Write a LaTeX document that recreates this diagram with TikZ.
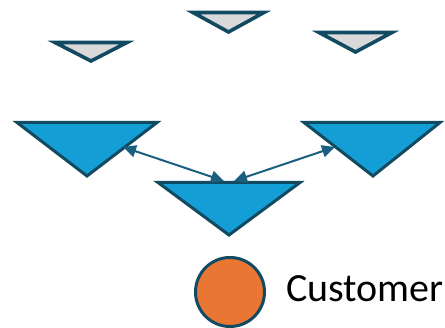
\documentclass[tikz,border=0pt]{standalone}
\usepackage{fontspec}
\setmainfont{Carlito}
\usetikzlibrary{arrows.meta}
\definecolor{edge}{HTML}{124A62}
\definecolor{smallfill}{HTML}{D9D9D9}
\definecolor{bigfill}{HTML}{139FD6}
\definecolor{arrowc}{HTML}{1A5F80}
\definecolor{custfill}{HTML}{EA7634}
\tikzset{
  smalltri/.style={draw=edge, fill=smallfill, line width=3.6pt, line join=miter},
  bigtri/.style={draw=edge, fill=bigfill, line width=3pt, line join=miter},
  link/.style={draw=arrowc, line width=2pt, {Triangle[length=13pt,width=12pt]}-{Triangle[length=13pt,width=12pt]}},
}
\begin{document}
\begin{tikzpicture}[x=1pt,y=-1pt]
\useasboundingbox (0,0) rectangle (445,328);
% small triangles
\path[smalltri] (55,42.5) -- (127,42.5) -- (91,61) -- cycle;
\path[smalltri] (193,12.5) -- (264,12.5) -- (228.5,32) -- cycle;
\path[smalltri] (319,32.5) -- (392,32.5) -- (355.5,52) -- cycle;
% big triangles
\path[bigtri] (17,122.5) -- (157,122.5) -- (87,176) -- cycle;
\path[bigtri] (304,122.5) -- (440,122.5) -- (373,176) -- cycle;
\path[bigtri] (158,182.5) -- (300,182.5) -- (229,235) -- cycle;
% connection points
\coordinate (cl) at (224,181);
\coordinate (cr) at (234,181);
\coordinate (ll) at (123,147);
\coordinate (rr) at (335,147);
\draw[link] (ll) -- (cl);
\draw[link] (cr) -- (rr);
% customer
\node[circle, draw=edge, fill=custfill, line width=3pt, minimum size=69pt, inner sep=0pt] (cust) at (230,292) {};
\node[anchor=west, inner sep=0pt, font=\fontsize{40}{42}\selectfont] (custlabel) at (286,289) {Customer};
\end{tikzpicture}
\end{document}
